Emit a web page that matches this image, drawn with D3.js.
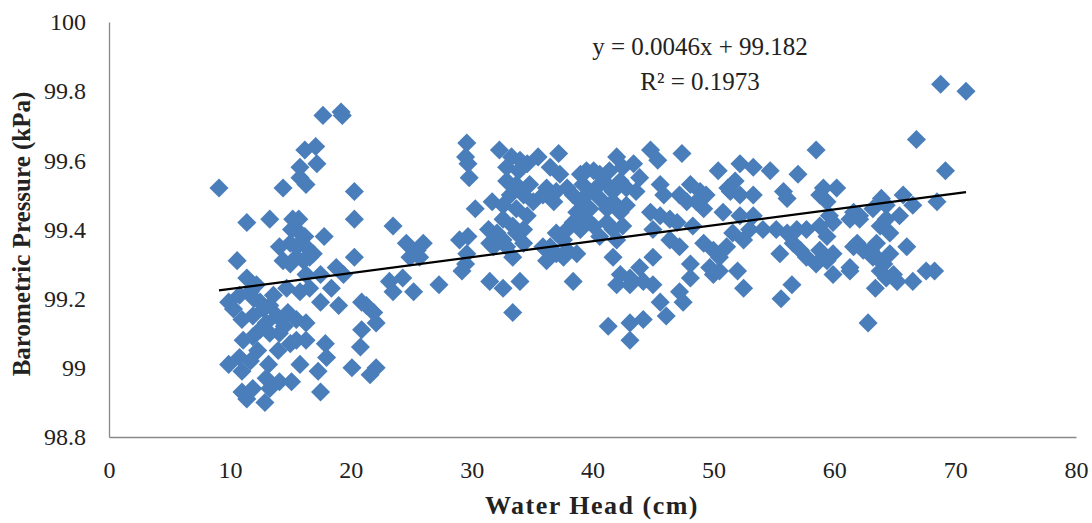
<!DOCTYPE html>
<html>
<head>
<meta charset="utf-8">
<script src="https://cdn.jsdelivr.net/npm/d3@7"></script>
<style>
  html, body { margin: 0; padding: 0; background: #fff; }
  svg { display: block; }
</style>
</head>
<body>
<svg id="chart" width="1092" height="523"></svg>
<script>
// Water head (cm)
const waterHead = [
  9.1, 17.7, 19.2, 19.3, 16.2, 17.1, 17.2, 15.8, 15.8, 16.3, 14.4, 20.3, 11.4, 13.3, 15.2, 15.7, 20.3,
  15.1, 15.8, 16.2, 17.8, 14.1, 15.0, 15.5, 16.3, 16.9, 20.3, 10.6, 14.4, 15.5, 16.6, 15.0, 16.1,
  11.4, 14.7, 16.3, 17.5, 15.8, 16.6, 18.8, 19.4, 18.4, 9.9, 10.8, 11.7, 12.5, 13.3, 17.5, 19.0, 20.9,
  11.0, 11.9, 12.8, 13.9, 14.8, 15.5, 16.3, 12.5, 13.3, 14.1, 11.9, 11.1, 15.5, 16.3, 10.8, 11.7, 13.2,
  15.0, 17.9, 18.0, 20.9, 20.8, 9.9, 11.0, 15.8, 17.3, 20.1, 21.6, 11.0, 11.9, 13.0, 13.3, 14.1, 15.1,
  11.4, 12.9, 17.5, 12.0, 13.0, 14.5, 12.3, 14.0, 10.3, 12.2, 13.6,
  23.5, 24.6, 26.0, 25.5, 24.9, 25.7, 23.2, 23.5, 24.3, 25.2, 27.3, 21.3, 21.9, 22.1, 22.1,
  29.6, 29.5, 29.7, 29.8, 30.3, 32.3, 33.3, 34.0, 32.9, 33.9, 34.6, 35.5, 37.2, 36.5, 37.3, 39.0, 39.5,
  32.9, 33.7, 34.8, 33.2, 34.3, 35.1, 36.2, 35.9, 37.0, 37.9, 38.4, 36.8, 31.7, 32.6, 33.7, 34.6, 32.6,
  33.4, 34.3, 39.0, 38.7, 38.4, 37.9, 39.0, 39.5, 37.0, 37.6, 36.5, 37.9, 36.2, 37.6, 38.7, 29.0, 29.7,
  31.4, 32.1, 31.5, 32.6, 33.7, 34.3, 33.4, 31.8, 32.9, 29.6, 29.5, 29.2, 31.5, 32.6, 34.0, 38.4, 33.4,
  35.9, 37.0,
  44.8, 45.4, 47.4, 50.4, 42.0, 42.5, 43.4, 43.9, 41.4, 40.6, 40.1, 39.2, 40.3, 41.2, 41.7, 42.3, 42.8,
  43.6, 39.5, 40.6, 41.2, 39.8, 41.7, 42.3, 42.8, 40.1, 41.2, 41.7, 42.5, 40.6, 42.0, 45.6, 45.9, 47.2,
  47.8, 48.1, 48.9, 49.4, 48.6, 49.2, 50.8, 51.2, 44.8, 45.6, 46.4, 47.0, 48.3, 45.0, 46.4, 47.2, 49.2,
  50.0, 50.5, 49.7, 50.0, 48.1, 48.1, 45.0, 41.7, 42.3, 43.1, 43.9, 44.2, 45.0, 42.0, 43.1, 47.2, 47.5,
  45.6, 46.1, 41.3, 43.1, 44.2, 43.1,
  58.5, 52.2, 53.3, 54.7, 57.0, 51.8, 51.4, 52.2, 53.3, 55.8, 56.1, 59.1, 60.2, 59.4, 63.9, 52.2, 53.3,
  62.1, 63.2, 64.3, 51.6, 53.0, 54.1, 55.2, 56.1, 56.9, 57.7, 58.8, 59.9, 61.3, 62.1, 63.8, 64.3, 51.1,
  52.5, 55.5, 56.6, 57.2, 57.7, 58.8, 59.4, 59.9, 58.5, 61.3, 61.9, 63.0, 63.5, 64.1, 63.8, 64.3, 50.5,
  52.0, 52.5, 56.5, 55.6, 63.4, 62.8,
  68.8, 70.9, 66.8, 69.2, 58.8, 59.6, 65.7, 68.5, 66.5, 65.4, 61.6, 64.6, 59.4, 59.9, 61.6, 62.4, 63.5,
  63.2, 64.6, 64.9, 66.0, 61.3, 65.2, 66.5, 67.6, 68.3
];
// Barometric pressure (kPa)
const pressure = [
  99.52, 99.73, 99.74, 99.73, 99.63, 99.64, 99.59, 99.58, 99.55, 99.53, 99.52, 99.51, 99.42, 99.43, 99.43, 99.43, 99.43,
  99.40, 99.39, 99.38, 99.38, 99.35, 99.36, 99.35, 99.35, 99.33, 99.32, 99.31, 99.31, 99.32, 99.32, 99.30, 99.31,
  99.26, 99.23, 99.27, 99.27, 99.22, 99.23, 99.29, 99.27, 99.23, 99.19, 99.21, 99.22, 99.19, 99.18, 99.19, 99.18, 99.19,
  99.14, 99.15, 99.17, 99.15, 99.16, 99.14, 99.13, 99.11, 99.10, 99.10, 99.09, 99.08, 99.08, 99.08, 99.03, 99.02, 99.01,
  99.07, 99.07, 99.03, 99.11, 99.06, 99.01, 98.99, 99.01, 98.99, 99.00, 98.98, 98.93, 98.94, 98.97, 98.94, 98.96, 98.96,
  98.91, 98.90, 98.93, 99.20, 99.13, 99.12, 99.05, 99.05, 99.17, 99.24, 99.21,
  99.41, 99.36, 99.36, 99.34, 99.32, 99.32, 99.25, 99.22, 99.26, 99.22, 99.24, 99.18, 99.16, 99.13, 99.00,
  99.65, 99.61, 99.59, 99.55, 99.46, 99.63, 99.61, 99.60, 99.58, 99.57, 99.59, 99.61, 99.62, 99.58, 99.56, 99.56, 99.57,
  99.54, 99.53, 99.53, 99.50, 99.50, 99.48, 99.52, 99.50, 99.51, 99.52, 99.50, 99.48, 99.48, 99.47, 99.46, 99.44, 99.43,
  99.41, 99.40, 99.48, 99.45, 99.42, 99.40, 99.40, 99.43, 99.39, 99.37, 99.35, 99.34, 99.31, 99.32, 99.33, 99.37, 99.38,
  99.40, 99.39, 99.36, 99.37, 99.39, 99.36, 99.32, 99.35, 99.35, 99.33, 99.30, 99.28, 99.25, 99.23, 99.25, 99.25, 99.16,
  99.35, 99.33,
  99.63, 99.60, 99.62, 99.57, 99.61, 99.58, 99.59, 99.55, 99.57, 99.56, 99.57, 99.53, 99.52, 99.53, 99.51, 99.54, 99.52,
  99.51, 99.50, 99.49, 99.46, 99.46, 99.48, 99.45, 99.47, 99.41, 99.42, 99.40, 99.41, 99.38, 99.37, 99.53, 99.50, 99.50,
  99.48, 99.53, 99.51, 99.50, 99.48, 99.46, 99.45, 99.52, 99.45, 99.44, 99.43, 99.42, 99.41, 99.40, 99.37, 99.35, 99.36,
  99.34, 99.32, 99.29, 99.27, 99.30, 99.26, 99.32, 99.32, 99.27, 99.26, 99.29, 99.25, 99.24, 99.24, 99.24, 99.22, 99.19,
  99.19, 99.15, 99.12, 99.13, 99.14, 99.08,
  99.63, 99.59, 99.58, 99.57, 99.56, 99.54, 99.51, 99.50, 99.50, 99.51, 99.49, 99.52, 99.52, 99.48, 99.49, 99.44, 99.44,
  99.44, 99.46, 99.47, 99.39, 99.40, 99.40, 99.40, 99.39, 99.40, 99.40, 99.41, 99.42, 99.43, 99.43, 99.41, 99.43, 99.35,
  99.37, 99.33, 99.36, 99.34, 99.32, 99.34, 99.31, 99.27, 99.30, 99.29, 99.36, 99.34, 99.32, 99.30, 99.28, 99.26, 99.28,
  99.28, 99.23, 99.24, 99.20, 99.23, 99.13,
  99.82, 99.80, 99.66, 99.57, 99.50, 99.44, 99.50, 99.48, 99.47, 99.44, 99.45, 99.39, 99.38, 99.33, 99.35, 99.34, 99.36,
  99.32, 99.33, 99.27, 99.35, 99.28, 99.25, 99.25, 99.28, 99.28
];

const xTicks = [0, 10, 20, 30, 40, 50, 60, 70, 80];
const xTickLabels = ["0", "10", "20", "30", "40", "50", "60", "70", "80"];
const yTicks = [98.8, 99, 99.2, 99.4, 99.6, 99.8, 100];
const yTickLabels = ["98.8", "99", "99.2", "99.4", "99.6", "99.8", "100"];
const trendSlope = 0.0046;
const trendIntercept = 99.182;
const equationText = "y = 0.0046x + 99.182";
const r2Text = "R² = 0.1973";
const xTitle = "Water Head (cm)";
const yTitle = "Barometric Pressure (kPa)";

const svg = d3.select("#chart");
const font = "'Liberation Serif', 'Times New Roman', serif";
const axisColor = "#898989";
const markerColor = "#4A7EBB";

const x = d3.scaleLinear().domain([0, 80]).range([109, 1076]);
const y = d3.scaleLinear().domain([98.8, 100]).range([437, 22]);

// Axes
const xAxis = svg.append("g")
  .attr("transform", `translate(0,${y(98.8)})`)
  .call(d3.axisBottom(x).tickValues(xTicks).tickSize(0).tickPadding(24)
    .tickFormat((d, i) => xTickLabels[i]));
const yAxis = svg.append("g")
  .attr("transform", `translate(${x(0)},0)`)
  .call(d3.axisLeft(y).tickValues(yTicks).tickSize(0).tickPadding(23)
    .tickFormat((d, i) => yTickLabels[i]));

[xAxis, yAxis].forEach(g => {
  g.select(".domain").attr("stroke", axisColor).attr("stroke-width", 1.3);
  g.selectAll("text").attr("font-family", font).attr("font-size", 24).attr("fill", "#222");
});

// Points (diamonds)
const pts = waterHead.map((v, i) => [v, pressure[i]]);
const sym = d3.symbol().type(d3.symbolSquare).size(182);
svg.append("g").selectAll("path").data(pts).join("path")
  .attr("d", sym)
  .attr("transform", d => `translate(${x(d[0])},${y(d[1])}) rotate(45)`)
  .attr("fill", markerColor);

// Trend line
const xMin = d3.min(waterHead), xMax = d3.max(waterHead);
svg.append("line")
  .attr("x1", x(xMin)).attr("y1", y(trendIntercept + trendSlope * xMin))
  .attr("x2", x(xMax)).attr("y2", y(trendIntercept + trendSlope * xMax))
  .attr("stroke", "#000").attr("stroke-width", 2.2);

// Equation
svg.append("text").attr("x", 700).attr("y", 55).attr("text-anchor", "middle")
  .attr("font-family", font).attr("font-size", 25).attr("fill", "#222").text(equationText);
svg.append("text").attr("x", 700).attr("y", 90).attr("text-anchor", "middle")
  .attr("font-family", font).attr("font-size", 25).attr("fill", "#222").text(r2Text);

// Axis titles
svg.append("text").attr("x", 592).attr("y", 514).attr("text-anchor", "middle")
  .attr("font-family", font).attr("font-size", 26).attr("font-weight", "bold").attr("fill", "#222")
  .attr("letter-spacing", 1.5)
  .text(xTitle);
svg.append("text").attr("transform", "translate(30,234) rotate(-90)").attr("text-anchor", "middle")
  .attr("font-family", font).attr("font-size", 25).attr("font-weight", "bold").attr("fill", "#222")
  .text(yTitle);
</script>
</body>
</html>
